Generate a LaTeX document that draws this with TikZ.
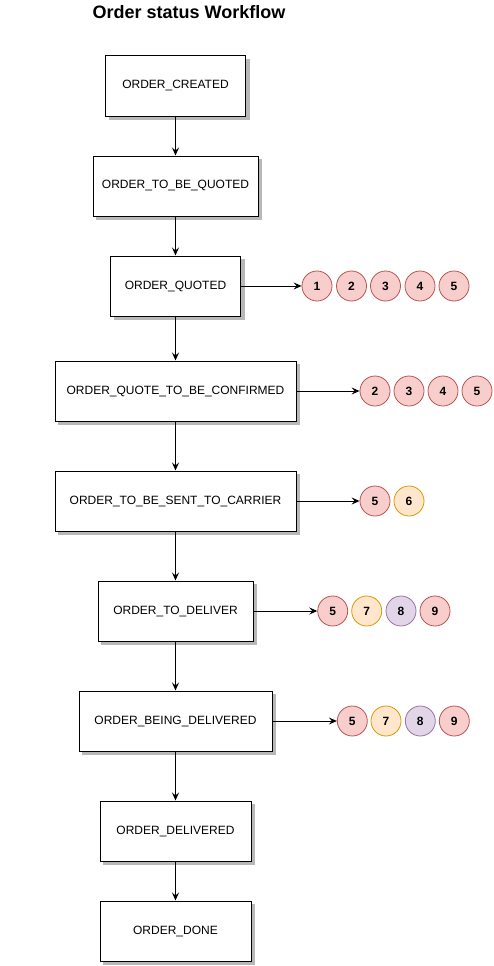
\documentclass[tikz,border=0pt]{standalone}
\usepackage{fontspec}
\setmainfont{Liberation Sans}
\usetikzlibrary{arrows.meta,backgrounds}
\definecolor{redf}{HTML}{F8CECC}\definecolor{redd}{HTML}{B85450}
\definecolor{orgf}{HTML}{FFE6CC}\definecolor{orgd}{HTML}{D79B00}
\definecolor{purf}{HTML}{E1D5E7}\definecolor{purd}{HTML}{9673A6}
\definecolor{shad}{HTML}{B8B8B8}
\begin{document}
\begin{tikzpicture}[x=1pt,y=-1pt,
  state/.style={draw=black,fill=white,line width=1pt,minimum height=60pt,inner sep=0pt,
    font=\fontsize{12}{14}\selectfont},
  dot/.style={circle,minimum size=30pt,inner sep=0pt,line width=0.8pt,font=\bfseries\fontsize{12}{14}\selectfont},
  rd/.style={dot,draw=redd,fill=redf},
  og/.style={dot,draw=orgd,fill=orgf},
  pu/.style={dot,draw=purd,fill=purf},
  arr/.style={-{Stealth[length=8pt,width=7pt,inset=3pt]},line width=1pt}]
\useasboundingbox (0,0) rectangle (494,966);
\node[font=\bfseries\fontsize{18}{21}\selectfont] (title) at (189,12) {Order status Workflow};
\node[state,minimum width=140pt] (s1) at (175.5,86) {ORDER\_CREATED};
\node[state,minimum width=165pt] (s2) at (175.5,186) {ORDER\_TO\_BE\_QUOTED};
\node[state,minimum width=130pt] (s3) at (175.5,286) {ORDER\_QUOTED};
\node[state,minimum width=241pt] (s4) at (175.5,391) {ORDER\_QUOTE\_TO\_BE\_CONFIRMED};
\node[state,minimum width=241pt] (s5) at (175.5,501) {ORDER\_TO\_BE\_SENT\_TO\_CARRIER};
\node[state,minimum width=155pt] (s6) at (175.5,611) {ORDER\_TO\_DELIVER};
\node[state,minimum width=193pt] (s7) at (175.5,721) {ORDER\_BEING\_DELIVERED};
\node[state,minimum width=151pt] (s8) at (175.5,831) {ORDER\_DELIVERED};
\node[state,minimum width=151pt] (s9) at (175.5,931) {ORDER\_DONE};
\begin{scope}[on background layer]
\foreach \s in {s1,s2,s3,s4,s5,s6,s7,s8,s9}
  \fill[shad] ([shift={(3.5,3.5)}]\s.north west) rectangle ([shift={(3.5,3.5)}]\s.south east);
\end{scope}
\foreach \a/\b in {s1/s2,s2/s3,s3/s4,s4/s5,s5/s6,s6/s7,s7/s8,s8/s9}
  \draw[arr] (\a) -- (\b);
% row 1
\node[rd] (a1) at (317,286) {1};
\node[rd] (a2) at (351.5,286) {2};
\node[rd] (a3) at (385.5,286) {3};
\node[rd] (a4) at (420,286) {4};
\node[rd] (a5) at (454,286) {5};
\draw[arr] (s3) -- (a1);
% row 2
\node[rd] (b2) at (375,391) {2};
\node[rd] (b3) at (409,391) {3};
\node[rd] (b4) at (443,391) {4};
\node[rd] (b5) at (477,391) {5};
\draw[arr] (s4) -- (b2);
% row 3
\node[rd] (c5) at (375,501) {5};
\node[og] (c6) at (409,501) {6};
\draw[arr] (s5) -- (c5);
% row 4
\node[rd] (d5) at (332.7,611) {5};
\node[og] (d7) at (366.7,611) {7};
\node[pu] (d8) at (401,611) {8};
\node[rd] (d9) at (435,611) {9};
\draw[arr] (s6) -- (d5);
% row 5
\node[rd] (e5) at (352.3,721) {5};
\node[og] (e7) at (386,721) {7};
\node[pu] (e8) at (420.3,721) {8};
\node[rd] (e9) at (454.3,721) {9};
\draw[arr] (s7) -- (e5);
\end{tikzpicture}
\end{document}
